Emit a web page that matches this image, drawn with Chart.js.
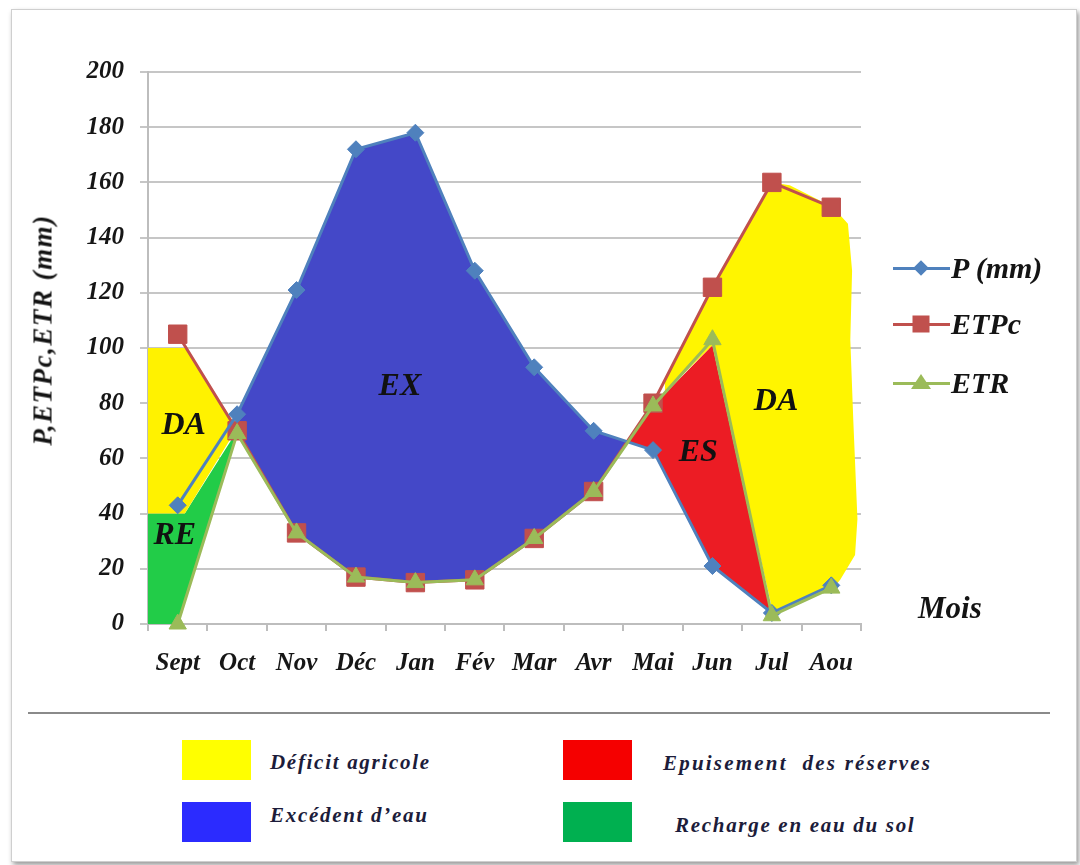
<!DOCTYPE html>
<html>
<head>
<meta charset="utf-8">
<script src="https://cdn.jsdelivr.net/npm/chart.js@4.4.1/dist/chart.umd.min.js"></script>
<style>
body{margin:0;background:#fff;width:1080px;height:865px;position:relative;overflow:hidden;font-family:"Liberation Serif",serif;}
#frame{position:absolute;left:11px;top:9px;width:1064px;height:851px;border:1px solid #cfcfcf;box-shadow:2px 3px 5px rgba(0,0,0,0.4);}
#chart{position:absolute;left:0;top:0;}
.t{position:absolute;font-weight:bold;font-style:italic;color:#141414;white-space:nowrap;}
.ln{position:absolute;height:3px;width:57px;left:893px;}
.sep{position:absolute;left:28px;top:712px;width:1022px;height:2px;background:#8a8a8a;}
.box{position:absolute;width:69px;height:40px;}
.lt{position:absolute;font-style:italic;font-weight:bold;color:#1c1c3a;font-size:21px;letter-spacing:1.7px;white-space:nowrap;transform:translateY(-50%);}
</style>
</head>
<body>
<div id="frame"></div>
<canvas id="chart" width="1080" height="700"></canvas>

<div class="t" id="ytitle" style="left:43px;top:330px;font-size:27px;letter-spacing:1.5px;transform:translate(-50%,-50%) rotate(-90deg);">P,ETPc,ETR (mm)</div>
<div class="t" style="left:918px;top:590px;font-size:31px;">Mois</div>

<div id="legend"></div>

<div class="sep"></div>
<div class="box" style="left:182px;top:740px;background:#ffff00;"></div>
<div class="lt" style="left:270px;top:762px;">Déficit agricole</div>
<div class="box" style="left:182px;top:802px;background:#2b2bff;"></div>
<div class="lt" style="left:270px;top:815px;">Excédent d’eau</div>
<div class="box" style="left:563px;top:740px;background:#f50000;"></div>
<div class="lt" style="left:663px;top:763px;letter-spacing:2.2px;">Epuisement&nbsp; des réserves</div>
<div class="box" style="left:563px;top:802px;background:#00b050;"></div>
<div class="lt" style="left:675px;top:825px;">Recharge en eau du sol</div>

<script>
// months and series
const months = ['Sept', 'Oct', 'Nov', 'Déc', 'Jan', 'Fév', 'Mar', 'Avr', 'Mai', 'Jun', 'Jul', 'Aou'];
const pValues = [43, 76, 121, 172, 178, 128, 93, 70, 63, 21, 4, 14];
const etpcValues = [105, 70, 33, 17, 15, 16, 31, 48, 80, 122, 160, 151];
const etrValues = [0, 69, 33, 17, 15, 16, 31, 48, 79, 103, 3, 13];

const seriesNames = ['P (mm)', 'ETPc', 'ETR'];
const seriesColors = ['#4f81bd', '#c0504d', '#9bbb59'];

// shaded zones (month index, mm)
const daLeftX = [-0.5, -0.5, 0.14, 1, 0.12];
const daLeftY = [40, 100, 100, 71, 40];
const reX = [-0.5, -0.5, 0.12, 1, 0];
const reY = [0, 40, 40, 70, 0];
const exX = [1, 2, 3, 4, 5, 6, 7, 7.58, 7, 6, 5, 4, 3, 2, 1];
const exY = [76, 121, 172, 178, 128, 93, 70, 66, 48, 31, 16, 15, 17, 33, 70];
const esX = [7.56, 8, 9, 9.97, 9, 8];
const esY = [66, 79, 101, 5, 20.5, 63];
const daRightX = [8.2, 9, 10, 10.3, 11.03, 11.28, 11.35, 11.32, 11.37, 11.44, 11.4, 11.15, 11.03, 10.02, 9, 8.2];
const daRightY = [88, 122, 160, 159, 151, 145, 128, 103, 74, 38, 25, 16, 13, 4, 101, 84];

const areaLabels = ['DA', 'RE', 'EX', 'ES', 'DA'];
const areaLabelX = [0.1, -0.05, 3.74, 8.76, 10.07];
const areaLabelY = [72, 32, 86, 62, 80.5];

const serif = '"Liberation Serif", "Times New Roman", serif';

const poly = (xs, ys) => xs.map((x, i) => ({ x: x, y: ys[i] }));

const zone = (xs, ys, color) => ({
    data: poly(xs, ys),
    xAxisID: 'xp',
    fill: 'shape',
    backgroundColor: color,
    borderColor: color,
    borderWidth: 0,
    pointRadius: 0,
    tension: 0,
    order: 10
});

const series = (i, values, style, radius, order) => ({
    label: seriesNames[i],
    data: values,
    xAxisID: 'x',
    borderColor: seriesColors[i],
    backgroundColor: seriesColors[i],
    pointBackgroundColor: seriesColors[i],
    pointBorderColor: seriesColors[i],
    borderWidth: 3,
    pointStyle: style,
    pointRadius: radius,
    pointBorderWidth: 1,
    fill: false,
    tension: 0,
    clip: false,
    order: order
});

const areaLabelPlugin = {
    id: 'areaLabels',
    afterDatasetsDraw(chart) {
        const ctx = chart.ctx;
        const xs = chart.scales.xp;
        const ys = chart.scales.y;
        ctx.save();
        ctx.font = 'italic bold 32px ' + serif;
        ctx.fillStyle = '#111';
        ctx.textAlign = 'center';
        ctx.textBaseline = 'middle';
        for (let i = 0; i < areaLabels.length; i++) {
            ctx.fillText(areaLabels[i], xs.getPixelForValue(areaLabelX[i]), ys.getPixelForValue(areaLabelY[i]));
        }
        ctx.restore();
    }
};

const ctx = document.getElementById('chart').getContext('2d');
const chart = new Chart(ctx, {
    type: 'line',
    data: {
        labels: months,
        datasets: [
            series(2, etrValues, 'triangle', 10, 1),
            series(0, pValues, 'rectRot', 8.5, 2),
            series(1, etpcValues, 'rect', 13, 3),
            zone(daLeftX, daLeftY, '#fff200'),
            zone(reX, reY, '#22cc48'),
            zone(exX, exY, '#4448c8'),
            zone(daRightX, daRightY, '#fff500'),
            zone(esX, esY, '#ec1c24')
        ]
    },
    options: {
        responsive: false,
        animation: false,
        layout: { padding: { left: 20, right: 219, top: 72, bottom: 26 } },
        plugins: { legend: { display: false }, tooltip: { enabled: false } },
        scales: {
            x: {
                type: 'category',
                offset: true,
                grid: { offset: true, drawOnChartArea: false, color: '#bdbdbd', lineWidth: 2, tickLength: 7 },
                border: { color: '#bdbdbd', width: 2 },
                ticks: { color: '#161616', padding: 18, font: { family: serif, size: 25, style: 'italic', weight: 'bold' } },
                afterFit: (scale) => { scale.height = 50; }
            },
            xp: {
                type: 'linear',
                display: false,
                min: -0.5,
                max: 11.5
            },
            y: {
                min: 0,
                max: 200,
                ticks: { stepSize: 20, color: '#161616', padding: 16, font: { family: serif, size: 25, style: 'italic', weight: 'bold' } },
                grid: { color: '#c6c6c6', lineWidth: 2, tickLength: 8 },
                border: { color: '#bdbdbd', width: 2 },
                afterFit: (scale) => { scale.width = 128; }
            }
        }
    },
    plugins: [areaLabelPlugin]
});

// legend on the right
const legend = document.getElementById('legend');
const legendY = [268, 324, 383];
const markerCss = [
    'width:11px;height:11px;transform:translate(-50%,-50%) rotate(45deg);',
    'width:17px;height:17px;transform:translate(-50%,-50%);',
    'width:0;height:0;border-left:10px solid transparent;border-right:10px solid transparent;transform:translate(-50%,-60%);'
];
for (let i = 0; i < seriesNames.length; i++) {
    const line = document.createElement('div');
    line.className = 'ln';
    line.style.top = (legendY[i] - 1) + 'px';
    line.style.background = seriesColors[i];
    legend.appendChild(line);

    const mk = document.createElement('div');
    mk.style.position = 'absolute';
    mk.style.left = '921px';
    mk.style.top = legendY[i] + 'px';
    mk.style.cssText += markerCss[i];
    if (i === 2) mk.style.borderBottom = '15px solid ' + seriesColors[i];
    else mk.style.background = seriesColors[i];
    legend.appendChild(mk);

    const txt = document.createElement('div');
    txt.className = 't';
    txt.style.left = '951px';
    txt.style.top = legendY[i] + 'px';
    txt.style.fontSize = '30px';
    txt.style.transform = 'translateY(-50%)';
    txt.textContent = seriesNames[i];
    legend.appendChild(txt);
}
</script>
</body>
</html>
